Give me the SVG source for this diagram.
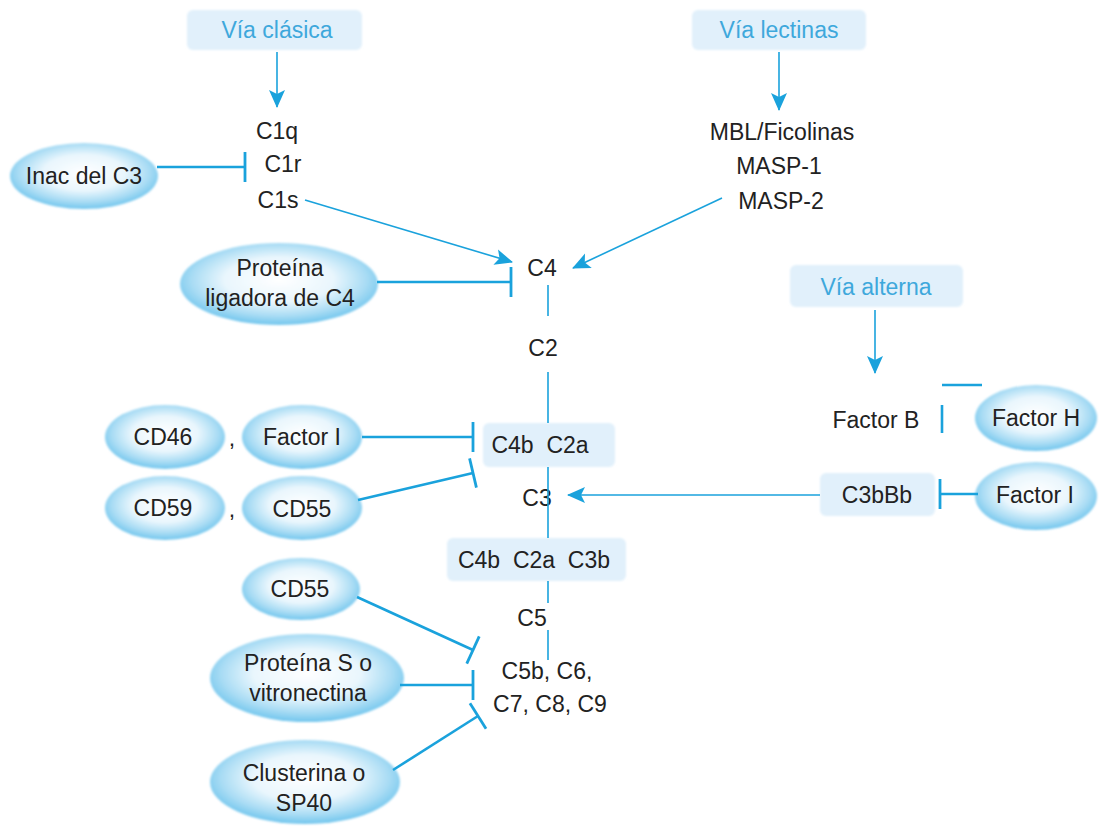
<svg xmlns="http://www.w3.org/2000/svg" width="1099" height="833" viewBox="0 0 1099 833">
<style>
text{font-family:"Liberation Sans",Arial,sans-serif;font-size:23px;fill:#222;text-anchor:middle}
.t{fill:#3ea8dc}
.box{fill:#e1f0fb;filter:url(#soft)}
.ell{fill:url(#eg);filter:url(#soft)}
.ln{stroke:#1aa2dc;fill:none}
.thin{stroke-width:1.6}
.thick{stroke-width:2.6}
</style>
<defs>
<radialGradient id="eg" cx="50%" cy="45%" r="55%">
<stop offset="0" stop-color="#ffffff"/>
<stop offset="0.5" stop-color="#e9f6fd"/>
<stop offset="0.8" stop-color="#a9dcf4"/>
<stop offset="1" stop-color="#72c6ee"/>
</radialGradient>
<filter id="soft" x="-10%" y="-10%" width="120%" height="120%"><feGaussianBlur stdDeviation="1.2"/></filter>
<marker id="arr" markerUnits="userSpaceOnUse" markerWidth="20" markerHeight="18" refX="17" refY="8" orient="auto" viewBox="0 0 20 16">
<path d="M0,0 L18,8 L0,16 L4,8 Z" fill="#1aa2dc"/>
</marker>
<marker id="bar" markerUnits="userSpaceOnUse" markerWidth="6" markerHeight="32" refX="3" refY="16" orient="auto" viewBox="0 0 6 32">
<path d="M3,1 V31" stroke="#1aa2dc" stroke-width="2.8"/>
</marker>
</defs>

<g id="via-clasica"><rect class="box" x="187" y="10" width="175" height="40" rx="6"/><text class="t" x="277" y="38">Vía clásica</text></g>
<g id="via-lectinas"><rect class="box" x="692" y="10" width="174" height="40" rx="6"/><text class="t" x="779" y="38">Vía lectinas</text></g>
<g id="via-alterna"><rect class="box" x="790" y="265" width="173" height="42" rx="6"/><text class="t" x="876" y="295">Vía alterna</text></g>

<g id="c1"><text x="277" y="139">C1q</text><text x="283" y="172">C1r</text><text x="278" y="208">C1s</text></g>
<g id="mbl"><text x="782" y="140">MBL/Ficolinas</text><text x="779" y="174">MASP-1</text><text x="781" y="209">MASP-2</text></g>
<g id="c4"><text x="542" y="276">C4</text></g>
<g id="c2"><text x="543" y="356">C2</text></g>
<g id="c4b-c2a"><rect class="box" x="483" y="423" width="132" height="44" rx="6"/><text x="540" y="453" xml:space="preserve">C4b  C2a</text></g>
<g id="c3"><text x="537" y="506">C3</text></g>
<g id="c4b-c2a-c3b"><rect class="box" x="447" y="538" width="179" height="43" rx="6"/><text x="534" y="568" xml:space="preserve">C4b  C2a  C3b</text></g>
<g id="c5"><text x="532" y="626">C5</text></g>
<g id="mac"><text x="547" y="679">C5b, C6,</text><text x="550" y="712">C7, C8, C9</text></g>
<g id="factor-b"><text x="876" y="428">Factor B</text></g>
<g id="c3bbb"><rect class="box" x="820" y="473" width="115" height="43" rx="6"/><text x="877" y="503">C3bBb</text></g>

<g id="inac-c3"><ellipse class="ell" cx="84" cy="176" rx="74" ry="33"/><text x="84" y="184">Inac del C3</text></g>
<g id="proteina-c4"><ellipse class="ell" cx="279" cy="284" rx="99" ry="41"/><text x="280" y="276">Proteína</text><text x="280" y="306">ligadora de C4</text></g>
<g id="cd46"><ellipse class="ell" cx="165" cy="437" rx="60" ry="32"/><text x="163" y="445">CD46</text></g>
<g id="factor-i-left"><ellipse class="ell" cx="302" cy="437" rx="60" ry="32"/><text x="302" y="445">Factor I</text></g>
<g id="cd59"><ellipse class="ell" cx="165" cy="508" rx="60" ry="32"/><text x="163" y="516">CD59</text></g>
<g id="cd55"><ellipse class="ell" cx="302" cy="508" rx="60" ry="32"/><text x="302" y="517">CD55</text></g>
<g id="commas"><text x="232" y="446">,</text><text x="232" y="517">,</text></g>
<g id="cd55-b"><ellipse class="ell" cx="301" cy="589" rx="59" ry="31"/><text x="300" y="597">CD55</text></g>
<g id="proteina-s"><ellipse class="ell" cx="307" cy="678" rx="97" ry="44"/><text x="308" y="671">Proteína S o</text><text x="308" y="701">vitronectina</text></g>
<g id="clusterina"><ellipse class="ell" cx="305" cy="782" rx="95" ry="42"/><text x="304" y="781">Clusterina o</text><text x="304" y="811">SP40</text></g>
<g id="factor-h"><ellipse class="ell" cx="1036" cy="418" rx="61" ry="33"/><text x="1036" y="426">Factor H</text></g>
<g id="factor-i-right"><ellipse class="ell" cx="1036" cy="496" rx="61" ry="34"/><text x="1035" y="503">Factor I</text></g>

<g id="connectors">
<line class="ln thin" x1="277" y1="52" x2="277" y2="107" marker-end="url(#arr)"/>
<line class="ln thin" x1="779" y1="52" x2="779" y2="110" marker-end="url(#arr)"/>
<line class="ln thin" x1="875" y1="310" x2="875" y2="373" marker-end="url(#arr)"/>
<line class="ln thin" x1="305" y1="200" x2="512" y2="262" marker-end="url(#arr)"/>
<line class="ln thin" x1="722" y1="198" x2="573" y2="268" marker-end="url(#arr)"/>
<line class="ln thin" x1="820" y1="495" x2="568" y2="495" marker-end="url(#arr)"/>
<line class="ln thin" x1="548" y1="285" x2="548" y2="316"/>
<line class="ln thin" x1="548" y1="372" x2="548" y2="423"/>
<line class="ln thin" x1="548" y1="467" x2="548" y2="538"/>
<line class="ln thin" x1="548" y1="581" x2="548" y2="603"/>
<line class="ln thin" x1="548" y1="630" x2="548" y2="660"/>
<line class="ln thick" x1="157" y1="167" x2="245" y2="167" marker-end="url(#bar)"/>
<line class="ln thick" x1="377" y1="282" x2="511" y2="282" marker-end="url(#bar)"/>
<line class="ln thick" x1="362" y1="437" x2="473" y2="437" marker-end="url(#bar)"/>
<line class="ln thick" x1="358" y1="500" x2="473" y2="473" marker-end="url(#bar)"/>
<line class="ln thick" x1="357" y1="597" x2="473" y2="650" marker-end="url(#bar)"/>
<line class="ln thick" x1="400" y1="685" x2="473" y2="685" marker-end="url(#bar)"/>
<line class="ln thick" x1="393" y1="770" x2="478" y2="716" marker-end="url(#bar)"/>
<line class="ln thick" x1="978" y1="494" x2="940" y2="494" marker-end="url(#bar)"/>
<line class="ln thick" x1="942" y1="385" x2="982" y2="385"/>
<line class="ln thick" x1="942" y1="405" x2="942" y2="433"/>
</g>
</svg>
